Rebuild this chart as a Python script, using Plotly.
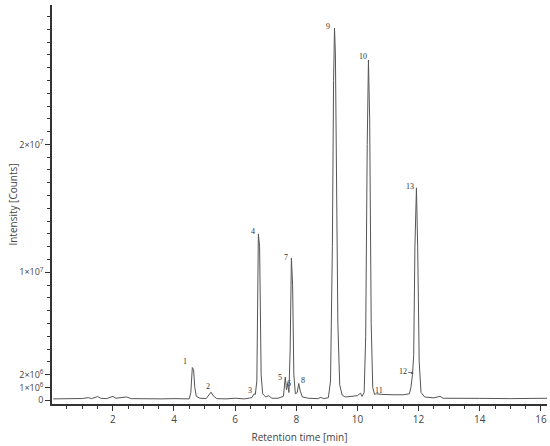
import plotly.graph_objects as go

rt_min = [0.05, 0.5, 0.8, 1.0, 1.2, 1.3, 1.5, 1.6, 1.8, 2.0, 2.1, 2.3, 2.45, 2.6, 3.0, 3.3, 3.6,
          4.0, 4.3, 4.50, 4.55, 4.60, 4.64, 4.68, 4.73, 4.85, 5.05, 5.15, 5.21, 5.28, 5.40, 5.7,
          6.0, 6.3, 6.55, 6.62, 6.66, 6.71, 6.76, 6.80, 6.85, 6.90, 7.0, 7.1, 7.2, 7.4, 7.58,
          7.64, 7.68, 7.72, 7.76, 7.80, 7.84, 7.88, 7.92, 7.97, 8.03, 8.08, 8.13, 8.20, 8.4,
          8.7, 8.8, 8.9, 9.05, 9.12, 9.18, 9.22, 9.25, 9.28, 9.32, 9.36, 9.42, 9.50, 9.6, 9.8,
          10.0, 10.1, 10.15, 10.22, 10.27, 10.32, 10.36, 10.40, 10.45, 10.50, 10.56, 10.62,
          10.8, 11.2, 11.5, 11.7, 11.75, 11.80, 11.84, 11.88, 11.93, 11.97, 12.02, 12.08, 12.2,
          12.5, 12.7, 12.8, 13.5, 14.0, 15.0, 15.5, 16.0, 16.2]
intensity_m = [0.10, 0.12, 0.10, 0.13, 0.20, 0.12, 0.28, 0.15, 0.12, 0.30, 0.15, 0.18, 0.25, 0.12,
               0.10, 0.14, 0.10, 0.12, 0.08, 0.10, 0.6, 2.55, 2.4, 1.0, 0.3, 0.15, 0.12, 0.4, 0.62,
               0.35, 0.12, 0.10, 0.15, 0.10, 0.20, 0.50, 0.45, 1.5, 13.0, 12.0, 2.0, 0.5, 0.25,
               0.35, 0.15, 0.15, 0.3, 1.8, 0.8, 1.3, 0.6, 4.0, 11.1, 9.0, 2.0, 0.5, 0.6, 1.3, 0.7,
               0.25, 0.15, 0.12, 0.22, 0.12, 0.2, 1.5, 12.0, 25.0, 29.1, 27.0, 18.0, 6.0, 1.2, 0.4,
               0.25, 0.3, 0.35, 0.55, 0.3, 0.6, 5.0, 20.0, 26.6, 22.0, 6.0, 1.0, 0.45, 0.5, 0.45,
               0.42, 0.42, 0.5, 1.0, 2.0, 3.5, 12.0, 16.6, 12.0, 3.0, 0.6, 0.25, 0.18, 0.30, 0.15,
               0.12, 0.14, 0.12, 0.15, 0.18, 0.15]

# Peak labels (number, rt of apex, intensity x1e6 at label anchor)
peak_labels = ["1", "2", "3", "4", "5", "6", "7", "8", "9", "10", "11", "12", "13"]
peak_rt = [4.60, 5.21, 6.62, 6.76, 7.64, 7.72, 7.84, 8.08, 9.25, 10.36, 10.56, 11.84, 11.93]
peak_int = [2.55, 0.62, 0.50, 13.0, 1.8, 1.3, 11.1, 1.3, 29.1, 26.6, 0.45, 2.1, 16.6]

# Y tick labels
ytick_vals = [0, 1e6, 2e6, 5e6, 1e7, 1.5e7, 2e7, 2.5e7, 3e7]
ytick_text = ["0", "1×10<sup>6</sup>", "2×10<sup>6</sup>", "", "1×10<sup>7</sup>", "",
              "2×10<sup>7</sup>", "", ""]

fig = go.Figure()
fig.add_trace(go.Scatter(
    x=rt_min, y=[v * 1e6 for v in intensity_m], mode="lines",
    line=dict(color="#555555", width=1), hoverinfo="skip", showlegend=False))

shifts = {
    "1": (-7, 6), "2": (-3, 6), "3": (-4, 3), "4": (-5, 2), "5": (-5, 0), "6": (1, 0),
    "7": (-5, 1), "8": (4, 3), "9": (-7, 2), "10": (-5, 3), "11": (4, 4), "12": (-8, 3),
    "13": (-6, 1),
}
label_font = dict(family="Liberation Serif", size=8, color="#333333")
for lab, x, y in zip(peak_labels, peak_rt, peak_int):
    dx, dy = shifts[lab]
    if lab == "12":
        fig.add_annotation(x=x, y=y * 1e6, text=lab, showarrow=True, ax=-11, ay=-2,
                           arrowhead=2, arrowsize=0.6, arrowwidth=0.8, arrowcolor="#444444",
                           standoff=0, font=label_font)
    else:
        fig.add_annotation(x=x, y=y * 1e6, text=lab, showarrow=False, xshift=dx, yshift=dy,
                           xanchor="center", yanchor="middle", font=label_font)

fig.update_layout(
    width=550, height=446,
    margin=dict(l=52, r=3, t=5, b=42, autoexpand=False),
    paper_bgcolor="white", plot_bgcolor="white",
    font=dict(family="Open Sans", size=10, color="#444444"),
)
fig.update_xaxes(
    range=[0.01, 16.2], tickmode="linear", tick0=0, dtick=2, automargin=False,
    showgrid=False, zeroline=False, showline=True, linecolor="#333333", linewidth=1.5,
    ticks="outside", ticklen=5, tickcolor="#333333",
    minor=dict(dtick=0.5, tick0=0, ticks="outside", ticklen=3, tickcolor="#333333"),
    tickfont=dict(size=10, color="#444444"),
    title=dict(text="Retention time [min]", font=dict(size=10, color="#444444"), standoff=9),
)
fig.update_yaxes(
    range=[-0.3e6, 30.9e6], tickmode="array", tickvals=ytick_vals, ticktext=ytick_text,
    automargin=False,
    showgrid=False, zeroline=False, showline=True, linecolor="#333333", linewidth=1.5,
    ticks="outside", ticklen=5, tickcolor="#333333",
    minor=dict(tickmode="array", tickvals=[i * 1e6 for i in range(0, 31)],
               ticks="outside", ticklen=3, tickcolor="#333333"),
    tickfont=dict(size=9, color="#444444"),
    title=dict(text="Intensity [Counts]", font=dict(size=10, color="#444444"), standoff=0),
)
fig.write_html(
    "out.html",
    config={"displayModeBar": False},
    post_script="document.body.style.margin='0';document.body.style.overflow='hidden';",
)
